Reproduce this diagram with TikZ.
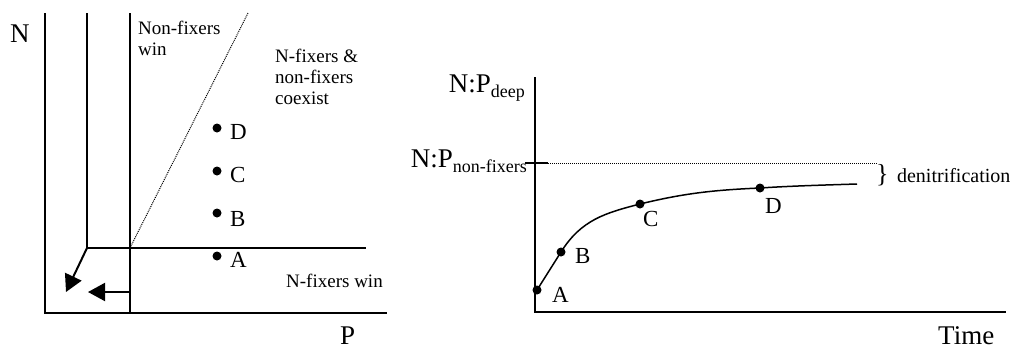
\documentclass[tikz,border=0pt]{standalone}
\usepackage{fontspec}
\setmainfont{Liberation Serif}
\usetikzlibrary{arrows.meta,positioning}

\begin{document}
\begin{tikzpicture}[x=1pt, y=-1pt,
  every node/.style={inner sep=0pt, font=\fontsize{19}{21}\selectfont},
  big/.style={font=\fontsize{27}{30}\selectfont},
  letter/.style={font=\fontsize{23}{26}\selectfont, anchor=base west},
  dot/.style={circle, fill, inner sep=0pt, minimum size=9pt},
  axis/.style={line width=2pt},
  guide/.style={line width=1pt, dash pattern=on 1pt off 1pt},
  head/.style={-{Triangle[length=17pt,width=18pt]}, line width=2pt}]
\useasboundingbox (0,0) rectangle (1019,349);

% left panel: N vs P plane
\coordinate (origin) at (45,313);
\coordinate (oldcorner) at (87,248);
\coordinate (newcorner) at (130,248);
\draw[axis] (45,13) -- (origin) -- (387,313);
\draw[axis] (87,13) -- (oldcorner) -- (366,248);
\draw[axis] (130,13) -- (130,313);
\draw[guide] (newcorner) -- (248,13);
\coordinate (tipA) at (66,292);
\coordinate (startB) at (130,292);
\coordinate (tipB) at (88,292);
\draw[head] (oldcorner) -- (tipA);
\draw[head] (startB) -- (tipB);

\node[big, anchor=base west] (labN) at (10,42) {N};
\node[big, anchor=base west] (labP) at (340,344) {P};
\node[anchor=north west, align=left] (nonfix) at (138,21) {Non-fixers\\win};
\node[anchor=north west, align=left] (coexist) at (275,49) {N-fixers \&\\non-fixers\\coexist};
\node[anchor=base west] (nfix) at (286,287) {N-fixers win};

\node[dot] (lD) at (217,128) {};
\node[dot] (lC) at (217,171) {};
\node[dot] (lB) at (217,213) {};
\node[dot] (lA) at (217,256) {};
\node[letter] at (230,139) {D};
\node[letter] at (230,182) {C};
\node[letter] at (230,226) {B};
\node[letter] at (230,267) {A};

% right panel: N:P over time
\coordinate (yaxis) at (535,77);
\coordinate (corner) at (535,312);
\coordinate (xaxis) at (1006,312);
\draw[axis] (yaxis) -- (corner) -- (xaxis);
\draw[line width=1.5pt] (525,163) -- (548,163);
\draw[guide] (548,163) -- (877,163);

\node[big, anchor=base east] (deep) at (525,92)
  {N:P\raisebox{-5pt}{\fontsize{18}{18}\selectfont deep}};
\node[big, anchor=base east] (nonfixers) at (527,167)
  {N:P\raisebox{-5pt}{\fontsize{18}{18}\selectfont non-fixers}};
\node[big, anchor=base west] (time) at (938,344) {Time};

\node[dot] (pA) at (537,290) {};
\node[dot] (pB) at (561,252) {};
\node[dot] (pC) at (640,204) {};
\node[dot] (pD) at (760,188) {};
\coordinate (tail) at (857,184);
\draw[line width=1.5pt] (pA.center) -- (pB.center)
  .. controls (581,220) and (605,213) .. (pC.center)
  .. controls (685,193) and (715,190) .. (pD.center)
  .. controls (790,186) and (825,185) .. (tail);
\node[letter] at (552,302) {A};
\node[letter] at (575,263) {B};
\node[letter] at (643,226) {C};
\node[letter] at (765,213) {D};

\node[anchor=base west, font=\fontsize{26}{26}\selectfont] (brace) at (876,182) {\}};
\node[anchor=base west, font=\fontsize{20}{22}\selectfont] (denit) at ([xshift=8pt]brace.base east) {denitrification};
\end{tikzpicture}
\end{document}
